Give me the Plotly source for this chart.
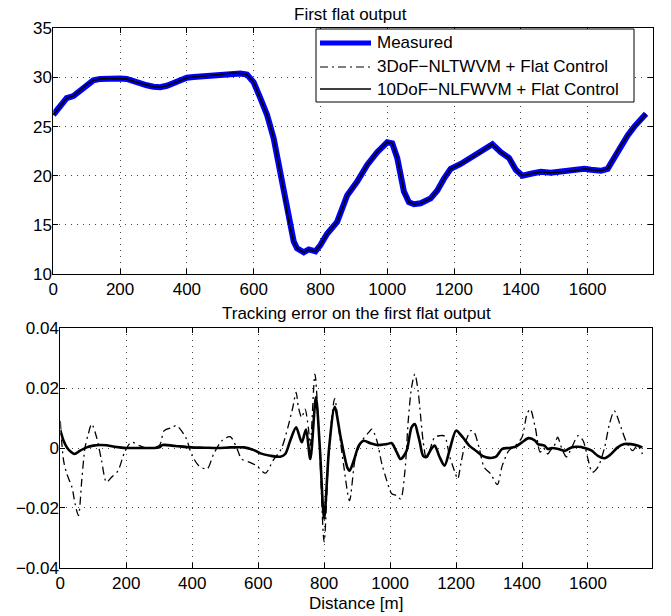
import plotly.graph_objects as go

# ---------------- data ----------------
dist_top = [0, 20, 40, 60, 80, 100, 120, 140, 160, 200, 220, 240, 260, 280, 300, 320, 340, 360, 380, 400,
            420, 440, 480, 500, 520, 540, 560, 580, 600, 620, 640, 660, 670, 680, 690, 700, 710, 720, 730, 750,
            765, 785, 800, 820, 850, 880, 910, 940, 970, 1000, 1015, 1030, 1050, 1065, 1080, 1100, 1130, 1150, 1170, 1190,
            1220, 1250, 1280, 1300, 1315, 1340, 1365, 1385, 1405, 1430, 1460, 1490, 1520, 1560, 1590, 1610, 1640, 1660, 1680, 1700,
            1720, 1740, 1760, 1775]
measured = [26.2, 27.0, 27.9, 28.1, 28.7, 29.3, 29.7, 29.85, 29.9, 29.9, 29.85, 29.6, 29.4, 29.2, 29.05, 29.0, 29.15, 29.4, 29.65, 29.97,
            30.05, 30.1, 30.2, 30.3, 30.4, 30.45, 30.4, 30.3, 29.5, 27.9, 26.2, 23.8, 22.1, 20.4, 18.4, 16.3, 14.6, 13.3, 12.6, 12.2,
            12.5, 12.3, 12.95, 14.1, 15.3, 18.0, 19.4, 21.1, 22.4, 23.4, 23.3, 21.8, 18.4, 17.3, 17.1, 17.2, 17.7, 18.5, 19.7, 20.7,
            21.2, 21.8, 22.4, 22.9, 23.2, 22.4, 21.8, 20.6, 20.0, 20.2, 20.4, 20.3, 20.4, 20.5, 20.7, 20.6, 20.5, 20.7, 21.9, 23.1,
            24.1, 25.0, 25.7, 26.3]
# model outputs coincide with the measurement at this scale
out_3dof = list(measured)
out_10dof = list(measured)

dist_e10 = [0, 10, 20, 30, 43, 60, 80, 100, 120, 140, 160, 180, 200, 240, 280, 300, 310, 340, 357, 397,
            437, 477, 517, 557, 587, 607, 637, 667, 682, 697, 715, 732, 745, 758, 775, 787, 800, 815, 832, 850,
            870, 877, 890, 905, 920, 940, 960, 990, 1005, 1020, 1032, 1050, 1065, 1075, 1084, 1090, 1100, 1110, 1125, 1135,
            1150, 1165, 1180, 1200, 1220, 1240, 1260, 1280, 1300, 1320, 1340, 1360, 1380, 1400, 1420, 1440, 1448, 1468, 1478, 1490,
            1510, 1530, 1550, 1570, 1590, 1610, 1630, 1650, 1670, 1690, 1710, 1730, 1750, 1765]
err_10dof = [0.006, 0.0024, 0.0002, -0.0011, -0.002, -0.0009, 0.0002, 0.0008, 0.001, 0.0009, 0.0005, 0.0002, 0.0, 0.0, 0.0, 0.0002, 0.001, 0.0008, 0.0006, 0.0002,
             0.0001, 0.0, 0.0002, 0.0002, -0.0007, -0.0018, -0.0026, -0.0029, -0.002, 0.0024, 0.0069, 0.0019, 0.0062, -0.0037, 0.017, 0.0, -0.0237, 0.0, 0.0138, 0.0036,
             -0.0064, -0.0076, -0.0042, 0.0008, 0.0024, 0.0016, 0.001, 0.0013, 0.0016, -0.0014, -0.0037, -0.0009, 0.0069, 0.008, 0.0047, 0.002, -0.0026, -0.003, -0.0003, 0.0008,
             -0.003, -0.0059, -0.0009, 0.0058, 0.0036, 0.0008, -0.0009, -0.0026, -0.0033, -0.003, -0.0003, 0.0, 0.0004, 0.0019, 0.0033, 0.0024, 0.0013, 0.0008, -0.0003, 0.0,
             -0.0003, -0.0009, 0.0002, 0.0004, 0.0, -0.0008, -0.0026, -0.0034, -0.002, 0.0002, 0.0013, 0.0013, 0.0008, 0.0002]

dist_e3 = [0, 10, 20, 35, 45, 55, 65, 75, 85, 95, 110, 125, 140, 155, 175, 195, 215, 240, 260, 300,
           315, 340, 352, 380, 400, 420, 445, 465, 490, 515, 535, 550, 575, 595, 622, 645, 670, 690, 705, 715,
           722, 732, 742, 752, 758, 772, 785, 800, 815, 832, 845, 860, 877, 895, 915, 935, 945, 960, 975, 990,
           1005, 1020, 1032, 1045, 1055, 1065, 1075, 1085, 1090, 1100, 1110, 1120, 1135, 1150, 1165, 1180, 1195, 1205, 1215, 1230,
           1245, 1255, 1270, 1285, 1305, 1325, 1340, 1360, 1380, 1400, 1415, 1425, 1440, 1455, 1465, 1478, 1488, 1498, 1508, 1520,
           1535, 1550, 1570, 1585, 1600, 1613, 1630, 1650, 1665, 1680, 1700, 1715, 1735, 1750, 1765]
err_3dof = [0.009, -0.0042, -0.0087, -0.013, -0.0187, -0.0226, -0.0109, 0.0002, 0.0047, 0.008, 0.0036, -0.0042, -0.0114, -0.0098, -0.0076, -0.0014, 0.0019, 0.0008, 0.0, 0.0008,
            0.0058, 0.0069, 0.0075, 0.0036, -0.0026, -0.0059, -0.007, -0.002, 0.0024, 0.0038, 0.0, -0.0037, -0.0048, -0.0059, -0.0084, -0.0042, -0.0003, 0.0069, 0.0136, 0.0186,
            0.0136, 0.0102, 0.013, 0.0069, 0.0008, 0.0247, 0.003, -0.0314, 0.0, 0.0165, 0.0058, -0.0064, -0.0176, -0.003, 0.0024, 0.0052, 0.0063, 0.0024, -0.0053, -0.0109,
            -0.0153, -0.0159, -0.017, -0.0076, 0.0091, 0.0202, 0.0247, 0.019, 0.0136, 0.0024, -0.0037, -0.0009, 0.0036, 0.0041, 0.004, -0.0026, -0.0076, -0.0103, -0.005, 0.0024,
            0.0058, 0.0052, 0.0, -0.0064, -0.0087, -0.0122, -0.0059, -0.0009, 0.0008, 0.0036, 0.0113, 0.013, 0.0069, -0.0014, 0.0, -0.002, -0.0005, 0.0008, 0.0036, 0.0,
            -0.003, 0.0, 0.0041, 0.0025, -0.0037, -0.0081, -0.0064, 0.0, 0.008, 0.0124, 0.0069, 0.0024, -0.0009, 0.0008, -0.002]

x_ticks = [0, 200, 400, 600, 800, 1000, 1200, 1400, 1600]
top_y_ticks = [10, 15, 20, 25, 30, 35]
bot_y_ticks = [-0.04, -0.02, 0, 0.02, 0.04]
legend_names = ["Measured", "3DoF\u2212NLTWVM + Flat Control", "10DoF\u2212NLFWVM + Flat Control"]

assert len(dist_top) == len(measured)
assert len(dist_e10) == len(err_10dof), (len(dist_e10), len(err_10dof))
assert len(dist_e3) == len(err_3dof), (len(dist_e3), len(err_3dof))

FONT = "Liberation Sans, Arial, Helvetica, sans-serif"
FS = 17
# the page body has an 8px margin: the figure is placed at (8, 8) in the window
OFF = 8
W, H = 671 - OFF, 616 - OFF


def px(x):
    return (x - OFF) / W


def py(y):
    return 1 - (y - OFF) / H


DASHDOT = "8px,4px,2px,4px"
BLUE = "#0000ff"

fig = go.Figure()

fig.add_trace(go.Scatter(x=dist_top, y=measured, mode="lines", name=legend_names[0], showlegend=False,
                         line=dict(color=BLUE, width=6), xaxis="x", yaxis="y"))
fig.add_trace(go.Scatter(x=dist_top, y=out_3dof, mode="lines", name=legend_names[1], showlegend=False,
                         line=dict(color="black", width=1.2, dash=DASHDOT), xaxis="x", yaxis="y"))
fig.add_trace(go.Scatter(x=dist_top, y=out_10dof, mode="lines", name=legend_names[2], showlegend=False,
                         line=dict(color="black", width=1.6), xaxis="x", yaxis="y"))

fig.add_trace(go.Scatter(x=dist_e3, y=err_3dof, mode="lines", showlegend=False,
                         line=dict(color="black", width=1.3, dash=DASHDOT, shape="spline", smoothing=0.8),
                         xaxis="x2", yaxis="y2"))
fig.add_trace(go.Scatter(x=dist_e10, y=err_10dof, mode="lines", showlegend=False,
                         line=dict(color="black", width=2.6, shape="spline", smoothing=0.8),
                         xaxis="x2", yaxis="y2"))

axis_common = dict(showline=True, linecolor="black", linewidth=1, mirror="allticks",
                   ticks="inside", ticklen=5, tickcolor="black", tickwidth=1,
                   showgrid=True, gridcolor="#444444", gridwidth=1, griddash="1px,5px",
                   zeroline=False, automargin=False,
                   tickfont=dict(family=FONT, size=FS, color="black"))

# legend box drawn in paper coordinates
leg_x0, leg_x1, leg_y0, leg_y1 = 316, 634, 29, 102
leg_rows = [43, 67, 89]
leg_styles = [dict(color=BLUE, width=5), dict(color="black", width=1.2, dash=DASHDOT), dict(color="black", width=1.4)]
shapes = [dict(type="rect", xref="paper", yref="paper", x0=px(leg_x0), x1=px(leg_x1), y0=py(leg_y1), y1=py(leg_y0),
               line=dict(color="black", width=1), fillcolor="white", layer="above")]
annotations = []
for name, row, st in zip(legend_names, leg_rows, leg_styles):
    shapes.append(dict(type="line", xref="paper", yref="paper", x0=px(320), x1=px(371), y0=py(row), y1=py(row),
                       line=st, layer="above"))
    annotations.append(dict(text=name, x=px(375), y=py(row), xref="paper", yref="paper",
                            xanchor="left", yanchor="middle", showarrow=False,
                            font=dict(family=FONT, size=FS, color="black")))

annotations += [
    dict(text="First flat output", x=px(350.5), y=py(14.5), xref="paper", yref="paper",
         xanchor="center", yanchor="middle", showarrow=False, font=dict(family=FONT, size=FS)),
    dict(text="Tracking error on the first flat output", x=px(356), y=py(313), xref="paper", yref="paper",
         xanchor="center", yanchor="middle", showarrow=False, font=dict(family=FONT, size=FS)),
    dict(text="Distance [m]", x=px(356), y=py(603), xref="paper", yref="paper",
         xanchor="center", yanchor="middle", showarrow=False, font=dict(family=FONT, size=FS)),
]

fig.update_layout(
    template="none",
    width=W, height=H,
    margin=dict(l=0, r=0, t=0, b=0, autoexpand=False),
    paper_bgcolor="white", plot_bgcolor="white",
    font=dict(family=FONT, size=FS, color="black"),
    showlegend=False,
    xaxis=dict(domain=[px(53.3), px(652.7)], range=[0, 1795], tickvals=x_ticks, anchor="y", **axis_common),
    yaxis=dict(domain=[py(274), py(28.3)], range=[10, 35], tickvals=top_y_ticks, anchor="x",
               ticklabelstandoff=-3, **axis_common),
    xaxis2=dict(domain=[px(60.3), px(652.3)], range=[0, 1795], tickvals=x_ticks, anchor="y2", **axis_common),
    yaxis2=dict(domain=[py(567.7), py(328.3)], range=[-0.04, 0.04], tickvals=bot_y_ticks, anchor="x2",
                ticklabelstandoff=-3, **axis_common),
    shapes=shapes,
    annotations=annotations,
)

fig.write_html("out.html")
